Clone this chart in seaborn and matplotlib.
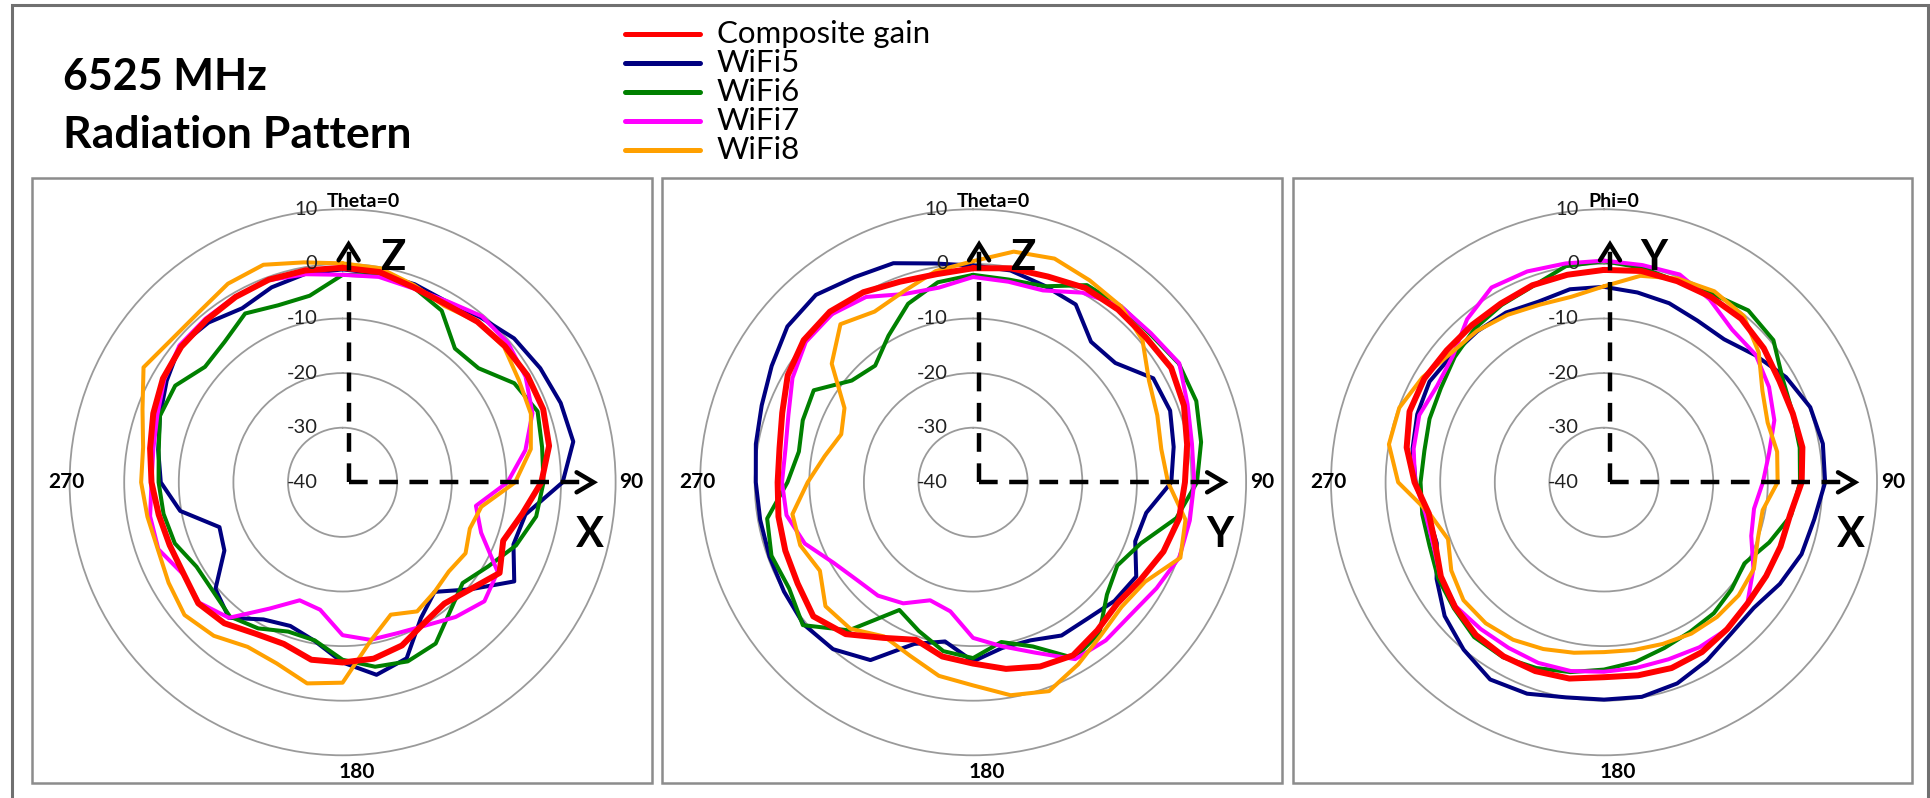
import numpy as np
import pandas as pd
import seaborn as sns
import matplotlib.pyplot as plt
from matplotlib.lines import Line2D
from matplotlib.patches import Rectangle
from matplotlib import transforms

# ---- data: gain in dBi, read every 10 degrees (0..350) ----
angles_deg = np.arange(0, 360, 10)

series_names = ['Composite gain', 'WiFi5', 'WiFi6', 'WiFi7', 'WiFi8']
series_colors = ['#ff0000', '#000080', '#008000', '#ff00ff', '#ffa000']

panel_titles = ['Theta=0', 'Theta=0', 'Phi=0']
up_axis = ['Z', 'Z', 'Y']
right_axis = ['X', 'Y', 'X']

p1_composite = [-0.7, -0.9, -2.0, -2.3, -1.6, -1.2, -0.9, -0.9, -1.6, -3.6, -6.6, -8.7,
                -6.8, -9.5, -11.0, -10.2, -8.2, -7.2, -7.0, -7.0, -8.5, -8.0, -6.3, -5.5,
                -6.4, -6.3, -5.8, -5.0, -4.2, -3.1, -2.0, -1.4, -1.2, -0.8, -0.5, -0.6]
p1_wifi5 = [-1.0, -1.2, -1.4, -1.8, -0.6, 1.0, 1.8, 2.5, 2.9, 0.3, -6.0, -6.7,
            -3.7, -9.5, -13.8, -11.3, -5.7, -4.2, -7.0, -10.5, -12.0, -11.0, -7.6, -9.6,
            -15.0, -16.0, -9.8, -6.7, -5.7, -4.4, -2.8, -1.1, -1.8, -3.2, -2.0, -1.2]
p1_wifi6 = [-2.0, -1.6, -2.0, -3.7, -8.0, -7.5, -3.7, -2.0, -2.9, -3.2, -4.0, -6.2,
            -9.2, -11.3, -9.3, -5.9, -5.1, -5.7, -7.5, -10.6, -10.9, -9.1, -7.9, -9.0,
            -9.1, -7.3, -6.7, -6.3, -5.8, -4.4, -4.6, -7.1, -6.4, -4.3, -5.5, -5.3]
p1_wifi7 = [-2.0, -1.8, -2.2, -1.7, -0.3, -0.4, -1.3, -3.0, -6.0, -9.8, -15.2, -13.0,
            -7.2, -6.1, -7.8, -9.7, -10.6, -10.7, -12.0, -16.3, -17.0, -13.3, -7.6, -5.7,
            -6.3, -4.1, -4.2, -5.0, -4.8, -3.9, -2.3, -1.0, -0.9, -0.7, -0.6, -1.3]
p1_wifi8 = [0.1, -0.2, -1.6, -2.7, -1.6, -1.4, -2.7, -3.3, -5.0, -8.4, -14.2, -15.2,
            -14.0, -14.6, -13.8, -12.7, -14.2, -10.5, -3.3, -2.6, -4.7, -5.2, -3.3, -2.2,
            -3.2, -4.0, -3.7, -3.1, -2.9, -1.0, 2.1, 0.8, 0.8, 2.0, 2.4, 0.9]

p2_composite = [-0.8, -0.2, 0.1, 1.1, 1.3, 1.3, 1.9, 1.1, -0.2, -1.2, -1.7, -2.9,
                -4.5, -5.5, -4.6, -3.4, -4.1, -5.3, -6.8, -7.6, -9.3, -7.1, -3.7, -1.8,
                -2.9, -3.4, -3.8, -4.2, -4.0, -2.8, -0.8, 0.5, 0.8, 0.2, -0.9, -1.3]
p2_wifi5 = [-0.3, -0.6, -1.7, -2.4, -6.4, -6.0, -1.9, -1.6, -2.7, -3.7, -7.8, -8.4,
            -5.5, -6.2, -7.4, -7.6, -9.2, -9.2, -7.2, -10.4, -8.5, -2.4, -0.1, 0.5,
            0.0, -0.3, -0.4, -0.2, 0.4, 1.2, 2.6, 4.4, 4.8, 3.4, 2.7, 0.7]
p2_wifi6 = [-2.0, -2.3, -1.8, 1.7, 2.1, 2.3, 3.5, 3.5, 2.4, 1.0, -2.2, -7.3,
            -9.5, -8.0, -4.0, -2.8, -8.0, -10.3, -7.8, -8.6, -11.0, -13.0, -4.6, 0.7,
            -1.1, -0.7, -1.7, -6.0, -7.6, -6.8, -6.3, -11.0, -12.1, -9.0, -5.2, -2.8]
p2_wifi7 = [-2.4, -2.7, -2.6, 0.1, 2.1, 2.5, 3.6, 1.8, 0.7, 0.5, 0.3, 0.2,
            -1.2, -2.3, -2.2, -2.6, -6.8, -9.5, -11.5, -16.0, -17.0, -14.4, -12.9, -12.2,
            -10.5, -7.2, -5.3, -5.0, -5.1, -4.0, -1.8, 0.0, 0.2, -0.8, -3.3, -3.8]
p2_wifi8 = [0.5, 2.9, 3.6, 2.7, 2.1, 0.5, -2.8, -4.1, -5.0, -4.3, -0.5, 0.4,
            -3.6, -4.5, -3.5, -1.5, 0.7, -0.4, -2.8, -4.0, -6.2, -7.4, -5.0, -4.7,
            -7.6, -6.3, -6.4, -9.7, -12.4, -14.3, -12.8, -6.2, -2.2, -3.9, -2.8, -0.7]

p3_composite = [-1.1, -0.7, -0.8, -0.8, -0.9, -1.8, -2.9, -3.2, -3.1, -3.8, -5.4, -5.6,
                -5.7, -5.6, -4.9, -4.1, -3.8, -4.1, -4.3, -3.5, -3.2, -3.2, -3.5, -4.4,
                -5.5, -7.1, -7.4, -5.3, -3.3, -2.1, -2.0, -2.4, -2.4, -2.2, -1.6, -1.4]
p3_wifi5 = [-4.2, -4.7, -5.1, -5.8, -5.8, -3.8, -1.5, 0.2, 0.7, 0.5, -0.9, -1.5,
            -2.8, -4.2, -3.8, -2.3, -0.8, -0.1, -0.2, 0.0, 1.2, 1.7, 0.0, -1.9,
            -4.6, -7.4, -7.2, -5.5, -4.4, -3.6, -3.1, -3.7, -3.9, -4.1, -4.8, -4.1]
p3_wifi6 = [0.5, -0.1, -0.8, -0.2, 1.1, 0.5, -2.2, -3.2, -3.6, -4.1, -5.2, -7.8,
            -10.3, -9.5, -8.7, -8.4, -7.7, -6.6, -5.7, -4.7, -3.8, -3.0, -3.0, -4.1,
            -4.9, -6.0, -6.2, -6.4, -6.6, -6.0, -5.5, -4.3, -3.2, -2.5, -1.8, 0.2]
p3_wifi7 = [0.6, 0.4, 0.5, -1.3, -3.5, -3.7, -5.1, -6.8, -9.3, -10.9, -12.1, -11.3,
            -8.4, -5.7, -4.9, -5.1, -5.5, -5.5, -5.3, -4.9, -4.8, -5.0, -4.9, -4.6,
            -5.4, -6.7, -6.8, -5.4, -4.6, -4.0, -4.7, -3.9, -1.0, 1.2, 1.1, 0.7]
p3_wifi8 = [-4.1, -1.6, -0.3, 0.4, -0.2, -3.0, -6.5, -8.1, -7.8, -8.2, -10.5, -10.0,
            -8.3, -7.8, -7.8, -8.0, -8.5, -8.8, -8.9, -8.3, -7.5, -6.7, -6.3, -6.4,
            -7.7, -9.6, -7.5, -2.3, 0.0, -0.1, -1.6, -3.3, -3.8, -4.6, -5.4, -5.5]

panels = [
    [p1_composite, p1_wifi5, p1_wifi6, p1_wifi7, p1_wifi8],
    [p2_composite, p2_wifi5, p2_wifi6, p2_wifi7, p2_wifi8],
    [p3_composite, p3_wifi5, p3_wifi6, p3_wifi7, p3_wifi8],
]

ring_values = [-30, -20, -10, 0]
ring_labels = ['10', '0', '-10', '-20', '-30', '-40']
ring_label_r = [10, 0, -10, -20, -30, -40]

# ---- figure layout (pixels) ----
W, H = 1931, 798
centers_x = [342.6, 973.1, 1604.0]
center_y = 482.3
R = 273.0  # radius of the 10 dB ring in pixels

sns.set_theme(style='white')
plt.rcParams['font.family'] = ['Lato', 'DejaVu Sans']
plt.rcParams['text.color'] = 'black'

fig = plt.figure(figsize=(W / 100, H / 100), dpi=100)


def fx(x):
    return x / W


def fy(y):
    return 1 - y / H


# outer frame and panel boxes
fig.add_artist(Rectangle((fx(12), fy(805)), fx(1928) - fx(12), fy(5) - fy(805),
                         transform=fig.transFigure, fill=False, ec='#707070', lw=2.2))
for x0, x1 in [(32, 652), (662, 1282), (1293, 1912)]:
    fig.add_artist(Rectangle((fx(x0), fy(783)), fx(x1) - fx(x0), fy(178) - fy(783),
                             transform=fig.transFigure, fill=False, ec='#8c8c8c', lw=1.8))

# title
fig.text(fx(63), fy(90), '6525 MHz', fontsize=31, fontweight='bold', va='baseline')
fig.text(fx(63), fy(148), 'Radiation Pattern', fontsize=32, fontweight='bold', va='baseline')

# legend drawn by hand
legend_y = [34, 63, 92, 121, 150]
for name, color, ly in zip(series_names, series_colors, legend_y):
    fig.add_artist(Line2D([fx(625), fx(700)], [fy(ly), fy(ly)], transform=fig.transFigure,
                          color=color, lw=3.6))
    fig.text(fx(717), fy(ly), name, fontsize=22.5, va='center', ha='left')

line_widths = {'Composite gain': 4.3, 'WiFi5': 2.9, 'WiFi6': 2.9, 'WiFi7': 2.9, 'WiFi8': 2.9}
draw_order = ['WiFi5', 'WiFi6', 'WiFi7', 'WiFi8', 'Composite gain']
palette = dict(zip(series_names, series_colors))

for i, values in enumerate(panels):
    cx = centers_x[i]
    ax = fig.add_axes([fx(cx - R), fy(center_y + R), 2 * R / W, 2 * R / H], projection='polar')

    rows = []
    for name, vals in zip(series_names, values):
        th = np.deg2rad(np.append(angles_deg, 360))
        gain = np.append(vals, vals[0])
        rows.append(pd.DataFrame({'theta': th, 'gain': gain, 'series': name}))
    df = pd.concat(rows, ignore_index=True)

    sns.lineplot(data=df, x='theta', y='gain', hue='series', hue_order=draw_order,
                 size='series', sizes=line_widths, palette=palette, sort=False,
                 estimator=None, legend=False, ax=ax, solid_joinstyle='round')

    ax.set_theta_zero_location('N')
    ax.set_theta_direction(-1)
    ax.set_ylim(-40, 10)
    ax.set_xticks([])
    ax.set_yticks(ring_values)
    ax.set_yticklabels([])
    ax.yaxis.grid(True, color='#9a9a9a', lw=1.3)
    ax.xaxis.grid(False)
    ax.spines['polar'].set_color('#9a9a9a')
    ax.spines['polar'].set_linewidth(1.3)
    ax.set_xlabel('')
    ax.set_ylabel('')
    ax.set_facecolor('none')

    # radial labels along the top
    lab_tr = transforms.offset_copy(ax.transData, fig=fig, x=-25, y=0, units='dots')
    for r, lab in zip(ring_label_r, ring_labels):
        ax.text(0, r, lab, transform=lab_tr, ha='right', va='center', fontsize=14.5,
                color='#222222')

    def ax_xy(dx, dy):
        return 0.5 + dx / (2 * R), 0.5 - dy / (2 * R)

    # angle labels
    ax.text(*ax_xy(-16, -281), panel_titles[i], transform=ax.transAxes, ha='left',
            va='center', fontsize=14, fontweight='bold')
    ax.text(*ax_xy(289, 0), '90', transform=ax.transAxes, ha='center', va='center',
            fontsize=15, fontweight='bold')
    ax.text(*ax_xy(-276, 0), '270', transform=ax.transAxes, ha='center', va='center',
            fontsize=15, fontweight='bold')
    ax.text(*ax_xy(14, 290), '180', transform=ax.transAxes, ha='center', va='center',
            fontsize=15, fontweight='bold')

    # coordinate arrows
    ox = 6
    x0, y0 = ax_xy(ox, 0)
    xt, yt = ax_xy(ox, -234)
    ax.plot([x0, xt], [y0, yt], transform=ax.transAxes, color='black', lw=3.2,
            linestyle=(0, (4.2, 2.6)), solid_capstyle='butt', clip_on=False)
    xr, yr = ax_xy(246, 0)
    ax.plot([x0, xr], [y0, yr], transform=ax.transAxes, color='black', lw=3.2,
            linestyle=(0, (4.2, 2.6)), solid_capstyle='butt', clip_on=False)
    # chevrons
    a = ax_xy(ox - 10, -222), ax_xy(ox, -238), ax_xy(ox + 10, -222)
    ax.plot([p[0] for p in a], [p[1] for p in a], transform=ax.transAxes, color='black',
            lw=3.2, clip_on=False, solid_joinstyle='miter')
    b = ax_xy(234, -10), ax_xy(251, 0), ax_xy(234, 10)
    ax.plot([p[0] for p in b], [p[1] for p in b], transform=ax.transAxes, color='black',
            lw=3.2, clip_on=False, solid_joinstyle='miter')

    ax.text(*ax_xy(50, -224), up_axis[i], transform=ax.transAxes, ha='center', va='center',
            fontsize=30, fontweight='bold')
    ax.text(*ax_xy(247, 53), right_axis[i], transform=ax.transAxes, ha='center',
            va='center', fontsize=30, fontweight='bold')

fig.savefig('out.png', dpi=100)
